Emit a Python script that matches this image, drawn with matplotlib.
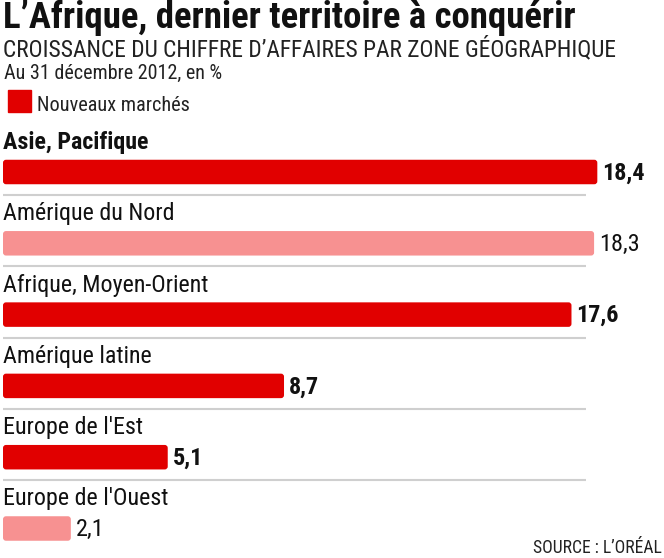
import matplotlib.pyplot as plt
from matplotlib.patches import Rectangle, FancyBboxPatch

# données
zones = ["Asie, Pacifique", "Amérique du Nord", "Afrique, Moyen-Orient",
         "Amérique latine", "Europe de l'Est", "Europe de l'Ouest"]
croissance = [18.4, 18.3, 17.6, 8.7, 5.1, 2.1]
nouveaux_marches = [True, False, True, True, True, False]
etiquettes = ["18,4", "18,3", "17,6", "8,7", "5,1", "2,1"]

ROUGE = "#e10000"
ROSE = "#f79191"
W, H = 664, 558
FONT = ["Roboto Condensed", "DejaVu Sans"]
plt.rcParams["font.family"] = FONT


def fy(px):
    return 1 - px / H


def fx(px):
    return px / W


fig = plt.figure(figsize=(W / 100, H / 100), dpi=100)
fig.patch.set_facecolor("white")

# zone du graphique (en pixels : x 3 -> 664, y 130 -> 558)
ax = fig.add_axes([fx(3), 0, 1 - fx(3), fy(130)])
px_per_unit = 32.3
ax.set_xlim(0, (W - 3) / px_per_unit)
step = 71.3
top = -(172 - 130) / step
ax.set_ylim(top + (H - 130) / step, top)
ax.axis("off")

ypos = list(range(len(zones)))
couleurs = [ROUGE if n else ROSE for n in nouveaux_marches]
bh = 24.5 / step
bars = ax.barh(ypos, croissance, height=bh, color=couleurs, edgecolor="none")

# coins arrondis (3 px)
for b in bars:
    b.set_visible(False)
    ax.add_patch(FancyBboxPatch((b.get_x(), b.get_y()), b.get_width(), b.get_height(),
                                boxstyle="round,pad=0,rounding_size=%f" % (3 / px_per_unit),
                                mutation_aspect=px_per_unit / step,
                                facecolor=b.get_facecolor(), edgecolor="none"))

for i, (zone, val, lab) in enumerate(zip(zones, croissance, etiquettes)):
    ax.text(0, i - 23 / step, zone, fontsize=17.3, va="baseline", ha="left",
            fontweight="bold" if i == 0 else "normal", color="#111111")
    ax.text(val + 5 / px_per_unit, i + 1 / step, lab, fontsize=17.5,
            fontweight="bold" if nouveaux_marches[i] else "normal",
            va="center", ha="left", color="#111111")
    if i < len(zones) - 1:
        ly = i + 23 / step
        ax.plot([0, 583 / px_per_unit], [ly, ly],
                color="#cfcfcf", lw=1.5, solid_capstyle="butt")

# en-tête
fig.text(fx(3), fy(28), "L’Afrique, dernier territoire à conquérir",
         fontsize=26.5, fontweight="bold", va="baseline", color="#111111")
fig.text(fx(3), fy(56), "CROISSANCE DU CHIFFRE D’AFFAIRES PAR ZONE GÉOGRAPHIQUE",
         fontsize=16.8, va="baseline", color="#222222")
fig.text(fx(4), fy(79), "Au 31 décembre 2012, en %",
         fontsize=14.5, va="baseline", color="#222222")
fig.patches.append(Rectangle((fx(8), fy(112)), fx(23), 22 / H,
                             transform=fig.transFigure, color=ROUGE))
fig.text(fx(37), fy(111), "Nouveaux marchés",
         fontsize=14.6, va="baseline", color="#222222")
fig.text(fx(662), fy(553), "SOURCE : L’ORÉAL",
         fontsize=12.7, va="baseline", ha="right", color="#222222")

fig.savefig("out.png", dpi=100)
